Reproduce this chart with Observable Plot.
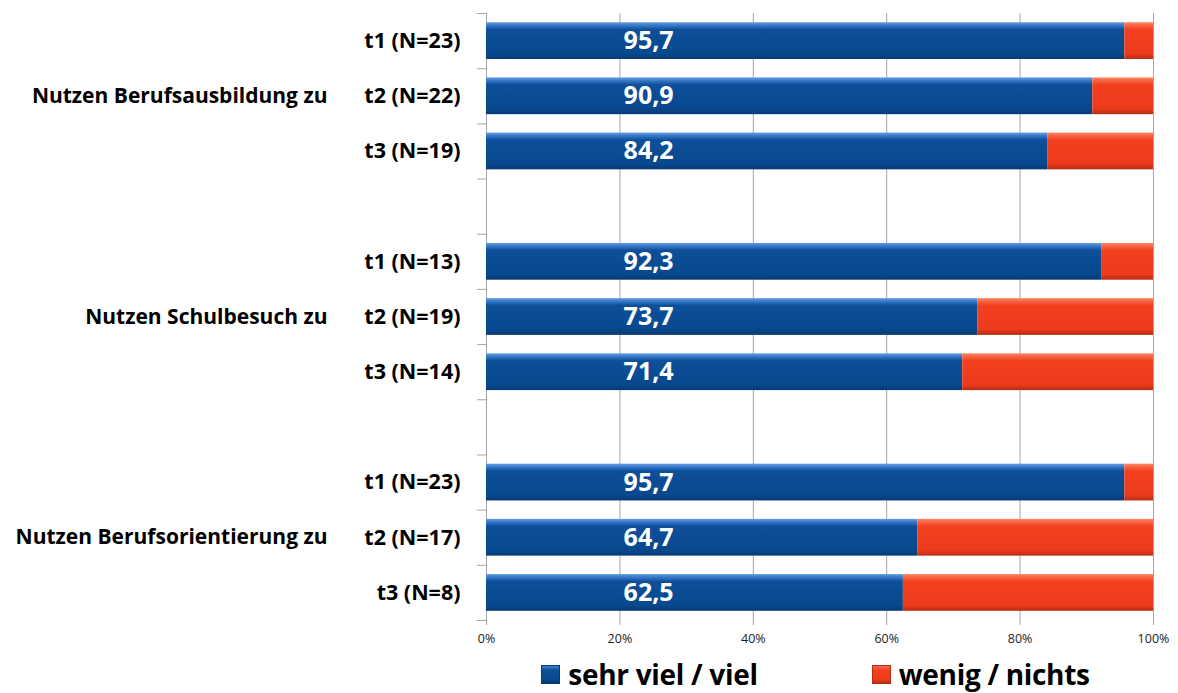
<!DOCTYPE html>
<html>
<head>
<meta charset="utf-8">
<script src="https://cdn.jsdelivr.net/npm/d3@7"></script>
<script src="https://cdn.jsdelivr.net/npm/@observablehq/plot@0.6"></script>
<style>
  html, body { margin: 0; padding: 0; background: #fff; }
  #chart { width: 1178px; }
  .legend { display: flex; justify-content: center; align-items: center; gap: 114px;
            margin-left: 482px; width: 667px; height: 38px;
            font-family: "Open Sans", Lato, sans-serif; font-weight: bold; font-size: 28px; color: #000;
            letter-spacing: -0.3px; }
  .legend .item { display: flex; align-items: center; white-space: nowrap; }
  .legend .sw { width: 19px; height: 19px; margin-right: 8px; box-sizing: border-box; }
</style>
</head>
<body>
<div id="chart"></div>
<script>
// ---- data ----
const groups = ["Nutzen Berufsausbildung zu", "Nutzen Schulbesuch zu", "Nutzen Berufsorientierung zu"];
const waveLabels = [
  "t1 (N=23)", "t2 (N=22)", "t3 (N=19)",
  "t1 (N=13)", "t2 (N=19)", "t3 (N=14)",
  "t1 (N=23)", "t2 (N=17)", "t3 (N=8)"
];
const rowGroup = [0, 0, 0, 1, 1, 1, 2, 2, 2];
const sehrViel = [95.7, 90.9, 84.2, 92.3, 73.7, 71.4, 95.7, 64.7, 62.5];
const wenig = sehrViel.map(v => +(100 - v).toFixed(1));
const seriesNames = ["sehr viel / viel", "wenig / nichts"];
const xTicks = [0, 20, 40, 60, 80, 100];
const labelX = 24.3;

// ---- build rows ----
const rows = waveLabels.map((lab, i) => {
  const within = i % 3;
  const slot = rowGroup[i] * 4 + within;
  return { lab, group: rowGroup[i], slot, v: sehrViel[i], w: wenig[i] };
});
const nSlots = 11;

const defs = () => {
  const ns = "http://www.w3.org/2000/svg";
  const d = document.createElementNS(ns, "defs");
  d.innerHTML = `
    <linearGradient id="gBlue" x1="0" y1="0" x2="0" y2="1">
      <stop offset="0" stop-color="#6a9fe0"/>
      <stop offset="0.07" stop-color="#3f7fcf"/>
      <stop offset="0.2" stop-color="#0d4f99"/>
      <stop offset="0.85" stop-color="#08488e"/>
      <stop offset="1" stop-color="#063a75"/>
    </linearGradient>
    <linearGradient id="gRed" x1="0" y1="0" x2="0" y2="1">
      <stop offset="0" stop-color="#ff8a6a"/>
      <stop offset="0.07" stop-color="#f86a48"/>
      <stop offset="0.2" stop-color="#f2401f"/>
      <stop offset="0.85" stop-color="#ec3b1c"/>
      <stop offset="1" stop-color="#b82c12"/>
    </linearGradient>`;
  return d;
};

const fmt = v => v.toFixed(1).replace(".", ",");
const F = "'Open Sans', Lato, sans-serif";

const chart = Plot.plot({
  width: 1178,
  height: 655,
  marginLeft: 486,
  marginRight: 25,
  marginTop: 13,
  marginBottom: 35,
  style: { fontFamily: F, background: "white", color: "#000" },
  x: { domain: [0, 100], label: null },
  y: { domain: [0, nSlots], reverse: true, label: null },
  marks: [
    defs,
    Plot.gridX(xTicks, { stroke: "#a6a6a6", strokeOpacity: 1 }),
    Plot.axisX({ ticks: xTicks, tickFormat: d => d + "%", tickSize: 5, tickPadding: 9, label: null,
                 fontSize: 12.5, stroke: "#a6a6a6", fill: "#222" }),
    Plot.axisY({ ticks: d3.range(nSlots + 1), tickSize: 9, tickFormat: () => "", label: null, stroke: "#a6a6a6" }),
    Plot.ruleX([0], { stroke: "#a6a6a6" }),
    Plot.axisY({ ticks: rows.map(r => r.slot + 0.5), tickSize: 0, tickPadding: 26, label: null,
                 tickFormat: d => rows.find(r => r.slot + 0.5 === d).lab,
                 fontSize: 21.5, fontWeight: "bold", fill: "#000" }),
    Plot.text(groups, { y: (d, i) => i * 4 + 1.5, frameAnchor: "left", dx: -159, textAnchor: "end",
                        text: d => d, fontSize: 21, fontWeight: "bold", fill: "#000" }),
    Plot.rect(rows, { x1: 0, x2: "v", y1: "slot", y2: d => d.slot + 1, insetTop: 9.2, insetBottom: 9.2,
                      fill: "url(#gBlue)" }),
    Plot.rect(rows, { x1: "v", x2: d => d.v + d.w, y1: "slot", y2: d => d.slot + 1, insetTop: 9.2, insetBottom: 9.2,
                      fill: "url(#gRed)" }),
    Plot.text(rows, { x: () => labelX, y: d => d.slot + 0.5, text: d => fmt(d.v),
                      fill: "white", fontSize: 25, fontWeight: "bold" })
  ]
});
document.getElementById("chart").appendChild(chart);

const legend = document.createElement("div");
legend.className = "legend";
legend.innerHTML = `
  <div class="item"><div class="sw" style="background:linear-gradient(#3f7fcf,#0d4f99 25%,#08488e 80%,#063a75);border:1px solid #063a75"></div>${seriesNames[0]}</div>
  <div class="item"><div class="sw" style="background:linear-gradient(#f86a48,#f2401f 25%,#ec3b1c 80%,#b82c12);border:1px solid #b82c12"></div>${seriesNames[1]}</div>`;
document.getElementById("chart").appendChild(legend);
</script>
</body>
</html>
